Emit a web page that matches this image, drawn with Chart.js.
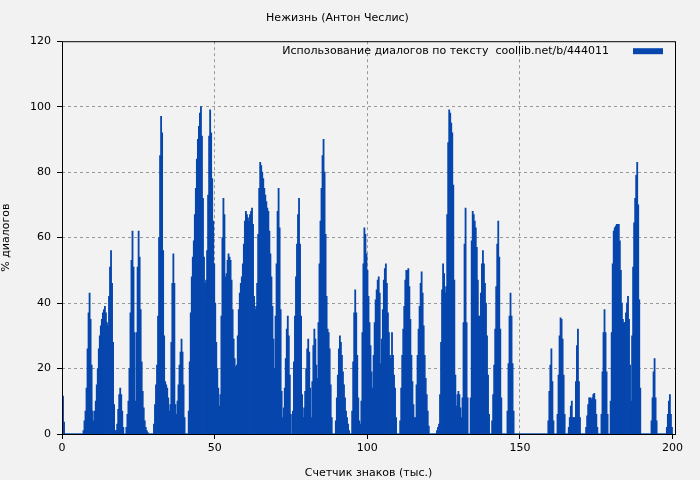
<!DOCTYPE html>
<html>
<head>
<meta charset="utf-8">
<script src="https://cdn.jsdelivr.net/npm/chart.js@4"></script>
<style>
  body { margin: 0; background: #f2f2f2; }
  #wrap { width: 700px; height: 480px; }
</style>
</head>
<body>
<div id="wrap"><canvas id="c" width="700" height="480"></canvas></div>
<script>
// Dialogue share per text slice
const dialogShare = [
  19.5,11.6,3.6, 0,0,0,0,0,0,0,0,0,0,0,0,0,0,0,0,0,0,
  1,4,7,14,26,37,43,35,21,7,4,7,10,15,20,26,30,33,35,37,38,39,37,34,33,42,51,56,46,28,9,1,1,3,7.5,12,14,12,7,2,0,0,
  2,6,10,20,37,53,62,51,31,10,31,51,62,54,38,22,13,8,4,2,1,0.4,0,0,0,0,0,
  3,9,15,21,36,60,85,97,92,56,30,16,15,14,11,7,9,28,46,55,46,9,6,10,15,21,25,29,25,15,5,0,0,0,
  7,22,37,48,54,59,67,75,84,90,94,98,100,91,72,54,46,47,56,73,91,99,92,78,65,52,40,28,
  20,14,8.5,12,36,60,72,67,48,49,53,55,54,53,47,38,29,23,20.5,21,30,38,43,46,48,52,58,65,68,67,66,65,67,68,69,64,42,38,39,46,
  61,75,83,82,80,78,75,73,71,69,68,62,55,48,39,29,20,36,52,68,75,63,38,13,5,8,14,23,32,36,30,18,6,0,
  7,22,36,48,58,67,72,58,36,12,5,8,13,20,26,29,25,14,5,16,27,32,29,21,17,34,52,65,75,85,90,80,61,42,32,31,26,15,5,0,0,0,
  4,11,18,26,30,28,24,19,15,11,7,5,3,1,0,0,7,22,37,44,37,24,11,4,3,10,31,52,63,61,55,50,42,34,
  27,19,14,24,34,41,44,47,48,43,21.5,29,38,47,50.5,52,46,37,31,24,23,31,24,18,14,5,0,0,0,
  4,14,24,32,39,47,50,50,50.5,45,35,24,16,9,5,5,15,24,32,39,46,49.5,43,33,24,17,12,7,2.4,0,0,0,0,0,0,0,
  1,2,3,12,28,44,52,49,43,45,67,89,99,98,95,92,76,47,18,8.5,12,13,12,8,5,11,34,58,69,34,11,0,0,
  11,59,68,67,65,63,57,47,36,36,43,52,56,52,46,40,30,18,6,0,0,4,12,21,32,45,58,65,54,32,11,0,0,0,0,0,
  7,21.5,36,43,36,21.5,7,
  0,0,0,0,0,0,0,0,0,0,0,0,0,0,0,0,0,0,0,0,0,0,0,0,0,0,0,0,0,0,0,0,0,
  4,13,21,26,16,4,0,0,0,6,18,30,35.5,35,29,18,6,0,0,0,2,5,8.5,10,5,5,5,16,27,32,16,5,0,0,0,0,0,
  2,5.5,9,11,11,10.5,11,12,12.4,10.5,6,2,0,0,0,6,19,31,38,31,19,6,0,0,
  10,31,52,62,63,63.5,64,64,64,59,50,40,35,34,34,37,40,42,35,21,10,30,51,64.5,72,79,83,70,41,14,
  0,0,0,0,0,0,0,0,0,0,4,11,19,23,11,4,0,0,0,0,0,0,0,0,0,2,6,10,12,6,2
];
const xStart = 0;      // тыс. знаков
const xEnd = 199.8;    // position of the last column
const xTicks = [0, 50, 100, 150, 200];
const yTicks = [0, 20, 40, 60, 80, 100, 120];
const titleText = 'Нежизнь (Антон Чеслис)';
const legendText = 'Использование диалогов по тексту  coollib.net/b/444011';
const barColor = '#0646ad';

const step = (xEnd - xStart) / (dialogShare.length - 1);
const points = dialogShare.map((v, i) => ({ x: xStart + i * step, y: v }));

const font = { family: 'DejaVu Sans', size: 11, weight: 'normal' };

// frame around plot area plus legend in the top right corner
const framePlugin = {
  id: 'frame',
  afterDraw(chart) {
    const { ctx, chartArea: a } = chart;
    ctx.save();
    ctx.strokeStyle = '#000';
    ctx.lineWidth = 1;
    ctx.strokeRect(a.left + 0.5, a.top + 0.5, a.right - a.left, a.bottom - a.top);
    ctx.font = '11px "DejaVu Sans"';
    ctx.fillStyle = '#000';
    ctx.textAlign = 'right';
    ctx.textBaseline = 'middle';
    ctx.fillText(legendText, a.right - 66, a.top + 10);
    ctx.fillStyle = barColor;
    ctx.fillRect(a.right - 42, a.top + 7, 30, 6);
    ctx.restore();
  }
};

new Chart(document.getElementById('c'), {
  type: 'bar',
  data: {
    datasets: [{
      data: points,
      backgroundColor: barColor,
      borderColor: barColor,
      borderWidth: 0,
      barPercentage: 1,
      categoryPercentage: 1,
      inflateAmount: 0.4
    }]
  },
  options: {
    responsive: false,
    animation: false,
    layout: { padding: { top: 0, right: 25, left: 0, bottom: 0 } },
    plugins: {
      legend: { display: false },
      tooltip: { enabled: false },
      title: {
        display: true, text: titleText, color: '#000',
        font: font, padding: { top: 12, bottom: 16 }
      }
    },
    scales: {
      x: {
        type: 'linear', min: 0, max: 200.8, offset: false,
        afterBuildTicks: s => { s.ticks = xTicks.map(v => ({ value: v })); },
        afterFit: s => { s.height = 46; },
        ticks: { color: '#000', font: font, maxRotation: 0, padding: 3 },
        grid: {
          offset: false,
          color: c => (c.tick && (c.tick.value === 0 || c.tick.value === 200)) ? 'rgba(0,0,0,0)' : '#999',
          tickColor: '#000', tickLength: 5, tickBorderDash: []
        },
        border: { display: false, dash: [3, 3] },
        title: { display: true, text: 'Счетчик знаков (тыс.)', color: '#000', font: font, padding: 0 }
      },
      y: {
        min: 0, max: 120,
        afterBuildTicks: s => { s.ticks = yTicks.map(v => ({ value: v })); },
        afterFit: s => { s.width = 62; },
        ticks: { color: '#000', font: font, padding: 6 },
        grid: {
          color: c => (c.tick && (c.tick.value === 0 || c.tick.value === 120)) ? 'rgba(0,0,0,0)' : '#999',
          tickColor: '#000', tickLength: 5, tickBorderDash: []
        },
        border: { display: false, dash: [3, 3] },
        title: { display: true, text: '% диалогов', color: '#000', font: font, padding: 0 }
      }
    }
  },
  plugins: [framePlugin]
});
</script>
</body>
</html>
